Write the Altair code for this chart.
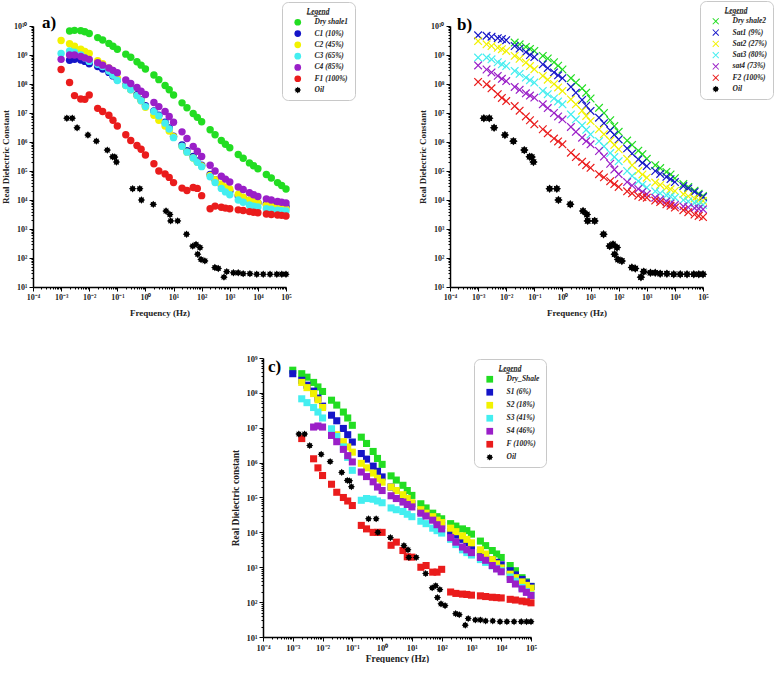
import json
import altair as alt
import pandas as pd

N = None
SERIF = "Liberation Serif"

# measurement frequencies (Hz) shared by the saturation series
FREQ = [1e-3, 2e-3, 3e-3, 5e-3, 7e-3, 1e-2, 2e-2, 3e-2, 5e-2, 7e-2, 1e-1,
        0.2, 0.3, 0.5, 0.7, 1, 2, 3, 5, 7, 10, 20, 30, 50, 70, 100,
        200, 300, 500, 700, 1e3, 2e3, 3e3, 5e3, 7e3, 1e4, 2e4, 3e4, 5e4, 7e4, 1e5]

# ---- panel a : log10(real dielectric constant) ----
A_NAMES = ["Dry shale1", "C1 (10%)", "C2 (45%)", "C3 (65%)", "C4 (85%)", "F1 (100%)", "Oil"]
A_DRY = [N, 9.83, 9.85, 9.84, 9.8, 9.74, 9.6, 9.52, 9.4, 9.3, 9.2, 9.03, 8.92, 8.77, 8.65, 8.52,
         8.31, 8.15, 7.95, 7.8, 7.62, 7.35, 7.18, 6.98, 6.85, 6.7, 6.42, 6.25, 6.05, 5.92, 5.8,
         5.57, 5.44, 5.28, 5.18, 5.08, 4.88, 4.76, 4.6, 4.5, 4.38]
A_C1 = [N, 8.82, 8.85, 8.83, 8.78, 8.7, 8.6, 8.52, 8.4, 8.28, 8.15, 7.97, 7.83, 7.63, 7.45, 7.25,
        7.07, 6.92, 6.68, 6.48, 6.2, 5.9, 5.7, 5.5, 5.35, 5.2, 4.88, 4.7, 4.52, 4.4, 4.3,
        4.14, 4.06, 3.98, 3.93, 3.9, 3.86, 3.84, 3.81, 3.79, 3.78]
A_C2 = [9.5, 9.39, 9.3, 9.2, 9.12, 9.05, 8.8, 8.7, 8.55, 8.42, 8.2, 7.95, 7.8, 7.6, 7.42, 7.2,
        6.92, 6.75, 6.55, 6.38, 6.18, 5.85, 5.65, 5.45, 5.3, 5.17, 4.85, 4.7, 4.55, 4.45, 4.38,
        4.2, 4.1, 4.0, 3.95, 3.9, 3.82, 3.78, 3.74, 3.71, 3.69]
A_C3 = [9.05, 9.14, 9.1, 9.0, 8.9, 8.78, 8.68, 8.6, 8.45, 8.3, 8.12, 7.95, 7.8, 7.6, 7.42, 7.22,
        7.05, 6.9, 6.65, 6.45, 6.15, 5.85, 5.65, 5.45, 5.3, 5.15, 4.8, 4.6, 4.4, 4.28, 4.18,
        4.0, 3.92, 3.83, 3.79, 3.76, 3.7, 3.68, 3.65, 3.63, 3.62]
A_C4 = [8.85, 9.0, 9.0, 8.95, 8.9, 8.85, 8.73, 8.65, 8.55, 8.47, 8.39, 8.14, 8.02, 7.88, 7.75, 7.64,
        7.36, 7.22, 7.05, 6.88, 6.68, 6.35, 6.12, 5.85, 5.68, 5.5, 5.2, 5.0, 4.82, 4.72, 4.62,
        4.45, 4.36, 4.25, 4.18, 4.12, 4.04, 4.0, 3.95, 3.92, 3.9]
A_F1 = [8.5, 8.05, 7.6, 7.48, 7.47, 7.62, 7.16, 7.05, 6.92, 6.75, 6.55, 6.25, 6.05, 5.88, 5.75, 5.55,
        5.25, 5.0, 4.9, 4.78, 4.6, 4.41, 4.33, 4.43, 4.4, 4.15, 3.7, 3.79, 3.75, 3.72, 3.7,
        3.66, 3.64, 3.6, 3.58, 3.56, 3.52, 3.5, 3.48, 3.47, 3.45]

# ---- panel b ----
B_NAMES = ["Dry shale2", "Sat1 (9%)", "Sat2 (27%)", "Sat3 (80%)", "sat4 (73%)", "F2 (100%)", "Oil"]
B_DRY = [N, N, N, N, N, N, 9.43, 9.37, 9.28, 9.21, 9.14, 8.97, 8.88, 8.75, 8.63, 8.5,
         8.2, 8.05, 7.85, 7.7, 7.5, 7.18, 7.0, 6.75, 6.55, 6.35, 6.05, 5.9, 5.7, 5.58, 5.42,
         5.2, 5.1, 4.97, 4.88, 4.75, 4.55, 4.45, 4.32, 4.22, 4.14]
B_S1 = [9.68, 9.66, 9.63, 9.58, 9.55, 9.51, 9.31, 9.22, 9.1, 9.0, 8.93, 8.68, 8.55, 8.4, 8.3, 8.2,
        7.9, 7.7, 7.45, 7.25, 7.07, 6.84, 6.65, 6.4, 6.25, 6.09, 5.78, 5.6, 5.4, 5.28, 5.17,
        5.0, 4.9, 4.8, 4.72, 4.62, 4.48, 4.4, 4.28, 4.18, 4.1]
B_S2 = [9.48, 9.37, 9.31, 9.25, 9.2, 9.14, 8.97, 8.87, 8.74, 8.62, 8.51, 8.28, 8.15, 8.0, 7.88, 7.76,
        7.47, 7.3, 7.08, 6.9, 6.72, 6.44, 6.27, 6.05, 5.9, 5.75, 5.42, 5.2, 5.0, 4.88, 4.77,
        4.6, 4.52, 4.43, 4.37, 4.31, 4.2, 4.13, 4.05, 4.0, 3.97]
B_S3 = [8.91, 8.91, 8.85, 8.75, 8.68, 8.62, 8.45, 8.35, 8.22, 8.13, 8.05, 7.76, 7.65, 7.5, 7.4, 7.3,
        6.95, 6.78, 6.57, 6.42, 6.26, 6.03, 5.85, 5.62, 5.48, 5.34, 5.0, 4.83, 4.65, 4.53, 4.43,
        4.3, 4.23, 4.16, 4.12, 4.08, 4.0, 3.95, 3.9, 3.86, 3.83]
B_S4 = [8.64, 8.5, 8.4, 8.28, 8.18, 8.1, 7.9, 7.8, 7.68, 7.6, 7.53, 7.3, 7.17, 7.0, 6.88, 6.78,
        6.52, 6.35, 6.15, 6.03, 5.92, 5.69, 5.5, 5.25, 5.05, 4.89, 4.62, 4.5, 4.38, 4.28, 4.2,
        4.08, 4.02, 3.95, 3.88, 3.83, 3.78, 3.75, 3.72, 3.7, 3.68]
B_F2 = [8.07, 7.99, 7.85, 7.65, 7.52, 7.41, 7.24, 7.08, 6.88, 6.75, 6.61, 6.44, 6.3, 6.12, 6.02, 5.92,
        5.63, 5.48, 5.32, 5.2, 5.11, 4.89, 4.78, 4.65, 4.55, 4.45, 4.3, 4.23, 4.15, 4.1, 4.08,
        3.98, 3.93, 3.85, 3.8, 3.74, 3.65, 3.58, 3.5, 3.45, 3.41]

# ---- panel c ----
C_NAMES = ["Dry_Shale", "S1 (6%)", "S2 (18%)", "S3 (41%)", "S4 (46%)", "F (100%)", "Oil"]
C_DRY = [8.65, 8.55, 8.45, 8.3, 8.17, 8.04, 7.79, 7.65, 7.45, 7.28, 7.07, 6.73, 6.55, 6.32, 6.12, 5.95,
         5.62, 5.5, 5.35, 5.2, 5.06, 4.82, 4.7, 4.55, 4.45, 4.39, 4.25, 4.18, 4.1, 4.05, 3.95,
         3.75, 3.62, 3.48, 3.38, 3.28, 3.05, 2.9, 2.7, 2.58, 2.45]
C_S1 = [8.55, 8.36, 8.22, 8.05, 7.85, 7.62, 7.36, 7.2, 6.98, 6.8, 6.59, 6.26, 6.1, 5.9, 5.75, 5.59,
        5.3, 5.2, 5.05, 4.93, 4.82, 4.6, 4.5, 4.38, 4.28, 4.2, 4.02, 3.92, 3.8, 3.7, 3.58,
        3.42, 3.33, 3.22, 3.14, 3.07, 2.9, 2.78, 2.65, 2.55, 2.45]
C_S2 = [N, 8.3, 8.15, 7.98, 7.8, 7.58, 6.95, 6.8, 6.6, 6.45, 6.3, 5.98, 5.85, 5.7, 5.55, 5.44,
        5.3, 5.2, 5.08, 4.97, 4.85, 4.65, 4.55, 4.45, 4.35, 4.28, 4.12, 4.02, 3.9, 3.8, 3.7,
        3.5, 3.38, 3.22, 3.1, 2.98, 2.8, 2.7, 2.58, 2.48, 2.4]
C_S3 = [N, 7.83, 7.72, 7.58, 7.45, 7.28, 6.97, 6.75, 6.45, 6.15, 5.78, 4.92, 4.97, 4.95, 4.9, 4.85,
        4.7, 4.65, 4.6, 4.52, 4.45, 4.32, 4.25, 4.12, 4.05, 3.98, 3.8, 3.65, 3.5, 3.42, 3.35,
        3.22, 3.14, 3.04, 2.97, 2.9, 2.72, 2.6, 2.42, 2.3, 2.2]
C_S4 = [N, N, N, 7.02, 7.05, 7.02, 6.78, 6.6, 6.38, 6.2, 6.02, 5.73, 5.6, 5.45, 5.3, 5.2,
        5.05, 4.97, 4.87, 4.8, 4.73, 4.55, 4.47, 4.35, 4.22, 4.1, 3.85, 3.72, 3.58, 3.5, 3.42,
        3.28, 3.2, 3.05, 2.95, 2.87, 2.65, 2.52, 2.38, 2.28, 2.19]
C_F = [N, 6.69, N, 6.11, 5.85, 5.63, 5.38, 5.15, 5.0, 4.9, 4.77, 4.2, 4.1, 4.0, 4.0, 4.0,
       3.63, 3.72, 3.48, 3.3, 3.29, 3.0, 3.05, 2.86, 2.86, 2.94, 2.29, 2.25, 2.23, 2.22, 2.2,
       2.18, 2.16, 2.14, 2.13, 2.12, 2.08, 2.06, 2.03, 2.01, 1.98]

# ---- oil (same in every panel) ----
OIL_F = [1.6e-3, 2.5e-3, 3.7e-3, 9e-3, 1.8e-2, 4.4e-2, 6.8e-2, 8.1e-2, 9.3e-2, 0.35, 0.63, 0.72,
         1.9, 5.4, 7.4, 7.9, 14, 29, 48, 63, 72, 87, 95, 130, 295, 390, 620, 780,
         1350, 2000, 3000, 5200, 9100, 1.55e4, 2.7e4, 4.7e4, 7.1e4, 1e5]
OIL_Y = [6.82, 6.82, 6.49, 6.24, 6.03, 5.72, 5.49, 5.48, 5.31, 4.39, 4.39, 4.0,
         3.85, 3.62, 3.5, 3.28, 3.28, 2.82, 2.41, 2.47, 2.13, 2.36, 1.95, 1.9, 1.67, 1.64, 1.34, 1.53,
         1.49, 1.49, 1.46, 1.46, 1.44, 1.44, 1.44, 1.44, 1.44, 1.44]

COLORS = ["#22dd22", "#1515c8", "#f2f200", "#44eef0", "#9a1fc8", "#ea1c1c", "#000000"]
X_PATH = ("M-1,-0.8L-0.8,-1L0,-0.2L0.8,-1L1,-0.8L0.2,0L1,0.8L0.8,1L0,0.2"
          "L-0.8,1L-1,0.8L-0.2,0Z")
STAR_PATH = ("M0,-1L0.3,-0.6L0.71,-0.71L0.6,-0.3L1,0L0.6,0.3L0.71,0.71L0.3,0.6L0,1"
             "L-0.3,0.6L-0.71,0.71L-0.6,0.3L-1,0L-0.6,-0.3L-0.71,-0.71L-0.3,-0.6Z")
LEGEND_TITLE = "L\u0332e\u0332g\u0332e\u0332n\u0332d\u0332"

SUP = str.maketrans("-0123456789", "⁻⁰¹²³⁴⁵⁶⁷⁸⁹")
LOG = "log(datum.value)/LN10"
MAJOR = f"abs({LOG} - round({LOG})) < 0.01"


def label_expr(lo, hi):
    arr = ["10" + str(e).translate(SUP) for e in range(lo, hi + 1)]
    return f"{MAJOR} ? {json.dumps(arr, ensure_ascii=False)}[round({LOG}) - ({lo})] : ''"


def tick_values(lo, hi):
    return [m * 10.0 ** k for k in range(lo, hi) for m in range(1, 10)] + [10.0 ** hi]


def frame(names, series):
    rows = []
    for i, (name, vals) in enumerate(zip(names[:-1], series)):
        for f, v in zip(FREQ, vals):
            if v is not None:
                rows.append({"f": f, "eps": 10 ** v, "series": name, "k": i})
    for f, v in zip(OIL_F, OIL_Y):
        rows.append({"f": f, "eps": 10 ** v, "series": names[-1], "k": 6})
    return pd.DataFrame(rows)


def axis(title, lo, hi, lfs, tfs, extent=None, tpad=2):
    kw = dict(
        title=title, values=tick_values(lo, hi), labelExpr=label_expr(lo, hi),
        labelFont=SERIF, labelFontWeight="bold", labelFontSize=lfs, labelColor="#222",
        titleFont=SERIF, titleFontWeight="bold", titleFontSize=tfs, titleColor="#222",
        domainColor="black", domainWidth=1.5, tickColor="black", tickWidth=1,
        tickSize={"condition": {"test": MAJOR, "value": 4}, "value": 2},
        labelOverlap=False, labelFlush=False, grid=False, labelPadding=2, titlePadding=tpad,
    )
    if extent is not None:
        kw["minExtent"] = extent
        kw["maxExtent"] = extent
    return alt.Axis(**kw)


def panel(names, series, shapes, size, tag, tag_x, tag_y, ytop, w, h, lx, ly, ytitle,
          lfs, tfs, xtpad, leg_fs, leg_rp):
    df = frame(names, series)
    legend = alt.Legend(
        title=LEGEND_TITLE, orient="none", legendX=lx, legendY=ly,
        fillColor="white", strokeColor="#c8c8c8", cornerRadius=6, padding=6,
        titleFont=SERIF, titleFontSize=leg_fs, titleFontStyle="italic", titleFontWeight="bold",
        titleColor="#222", titleAnchor="middle", titlePadding=3,
        labelFont=SERIF, labelFontSize=leg_fs, labelFontStyle="italic", labelFontWeight="bold",
        labelColor="#222", symbolSize=45, symbolStrokeWidth=0, rowPadding=leg_rp,
        labelOffset=13, symbolOffset=6,
    )
    points = alt.Chart(df).mark_point(filled=True, opacity=1, size=size, strokeWidth=0).encode(
        x=alt.X("f:Q", scale=alt.Scale(type="log", domain=[1e-4, 1e5], nice=False),
                axis=axis("Frequency (Hz)", -4, 5, lfs, tfs, tpad=xtpad)),
        y=alt.Y("eps:Q", scale=alt.Scale(type="log", domain=[10, 10.0 ** ytop], nice=False),
                axis=axis(ytitle, 1, ytop, lfs, tfs, extent=21, tpad=2)),
        color=alt.Color("series:N", scale=alt.Scale(domain=names, range=COLORS), legend=legend),
        shape=alt.Shape("series:N", scale=alt.Scale(domain=names, range=shapes), legend=legend),
        order=alt.Order("k:Q"),
    )
    label = alt.Chart(pd.DataFrame({"t": [tag]})).mark_text(
        font=SERIF, fontSize=17, fontWeight="bold", color="black", align="left",
        baseline="alphabetic").encode(text="t:N", x=alt.value(tag_x), y=alt.value(tag_y))
    return alt.layer(points, label).properties(width=w, height=h)


pa = panel(A_NAMES, [A_DRY, A_C1, A_C2, A_C3, A_C4, A_F1], ["circle"] * 6 + [STAR_PATH], 55,
           "a)", 9, 2, 10, 253, 261, 249, -24, "Real Dielectric Constant", 8, 9, 7, 7.5, 2.3)
pb = panel(B_NAMES, [B_DRY, B_S1, B_S2, B_S3, B_S4, B_F2], [X_PATH] * 6 + [STAR_PATH], 72,
           "b)", 7, 4, 10, 253, 261, 250, -25, "Real Dielectric Constant", 8, 9, 7, 7.5, 2.3)
pc = panel(C_NAMES, [C_DRY, C_S1, C_S2, C_S3, C_S4, C_F], ["square"] * 6 + [STAR_PATH], 50,
           "c)", 5, 14, 9, 268, 279, 211, 1, "Real Dielectric constant", 8.5, 9.5, 2, 7.5, 4.0)

spacer = alt.Chart(pd.DataFrame({"v": [0]})).mark_point(opacity=0).encode(
    x=alt.value(0), y=alt.value(0)).properties(width=230, height=20)

INDEP = dict(color="independent", shape="independent", x="independent", y="independent")
row1 = alt.hconcat(pa, pb, spacing=164, bounds="flush").resolve_scale(**INDEP)
row2 = alt.hconcat(spacer, pc, spacing=0, bounds="flush").resolve_scale(**INDEP)

chart = alt.vconcat(row1, row2, spacing=37).resolve_scale(**INDEP).properties(
    padding={"left": 1, "top": 0, "right": 0, "bottom": 0}, background="white"
).configure_view(strokeWidth=0)

chart.save("out.html", embed_options={"renderer": "svg", "actions": False})
